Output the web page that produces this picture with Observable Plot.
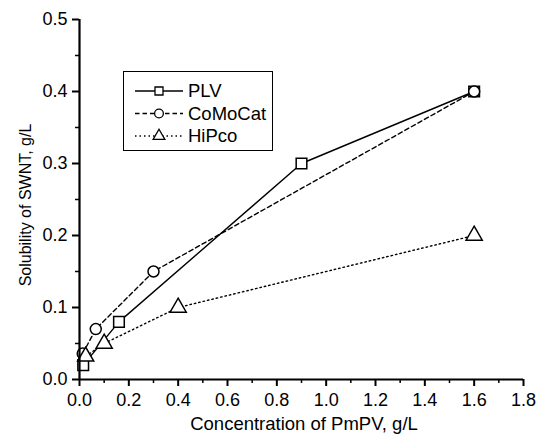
<!DOCTYPE html>
<html><head><meta charset="utf-8">
<script src="https://cdn.jsdelivr.net/npm/d3@7"></script>
<script src="https://cdn.jsdelivr.net/npm/@observablehq/plot@0.6"></script>
<style>
body{margin:0;background:#fff;font-family:"Liberation Sans",Arial,sans-serif;}
#wrap{position:relative;width:537px;height:436px;overflow:hidden;}
#legend{position:absolute;left:123px;top:71px;width:150px;height:80px;border:1.3px solid #000;box-sizing:border-box;background:#fff;}
</style></head>
<body><div id="wrap"><div id="chart"></div><div id="legend"></div></div>
<script>
const series = ["PLV", "CoMoCat", "HiPco"];
const plvX = [0.015, 0.16, 0.9, 1.6];
const plvY = [0.02, 0.08, 0.3, 0.4];
const comoX = [0.013, 0.066, 0.3, 1.6];
const comoY = [0.036, 0.07, 0.15, 0.4];
const hipcoX = [0.025, 0.1, 0.4, 1.6];
const hipcoY = [0.032, 0.05, 0.1, 0.2];
const xTicks = [0, 0.2, 0.4, 0.6, 0.8, 1.0, 1.2, 1.4, 1.6, 1.8];
const yTicks = [0, 0.1, 0.2, 0.3, 0.4, 0.5];

const styles = {
  PLV: {dash: null, symbol: "square", r: 6},
  CoMoCat: {dash: "4.5,3", symbol: "circle", r: 5.5},
  HiPco: {dash: "1.5,3", symbol: "triangle", r: 6}
};
const raw = {PLV: [plvX, plvY], CoMoCat: [comoX, comoY], HiPco: [hipcoX, hipcoY]};
const data = series.map(s => ({s, pts: raw[s][0].map((x, i) => ({x, y: raw[s][1][i], s}))}));

const xMinor = d3.range(0.1, 1.81, 0.2);
const yMinor = d3.range(0.05, 0.5, 0.1);

const marks = [];
for (const d of data) {
  marks.push(Plot.line(d.pts, {x: "x", y: "y", stroke: "#000", strokeWidth: 1.4, strokeDasharray: styles[d.s].dash}));
}
for (const d of data) {
  marks.push(Plot.dot(d.pts, {x: "x", y: "y", symbol: () => styles[d.s].symbol, r: styles[d.s].r, fill: "#fff", stroke: "#000", strokeWidth: 1.5}));
}
marks.push(
  Plot.axisX(xTicks, {tickSize: 7, tickPadding: 7, strokeWidth: 2, tickFormat: d3.format(".1f"), label: null}),
  Plot.axisX(xMinor, {tickSize: 4, strokeWidth: 1.5, tickFormat: () => "", label: null}),
  Plot.axisY(yTicks, {tickSize: 7, tickPadding: 5, strokeWidth: 2, tickFormat: d3.format(".1f"), label: null}),
  Plot.axisY(yMinor, {tickSize: 4, strokeWidth: 1.5, tickFormat: () => "", label: null}),
  Plot.ruleX([0], {strokeWidth: 2.2}),
  Plot.ruleY([0], {strokeWidth: 2.2})
);

const chart = Plot.plot({
  width: 537, height: 436,
  marginLeft: 79, marginRight: 14, marginTop: 19, marginBottom: 57,
  style: {fontFamily: "Liberation Sans, Arial, sans-serif", color: "#000", background: "#fff"},
  x: {domain: [0, 1.8]},
  y: {domain: [0, 0.5]},
  marks
});
document.getElementById("chart").appendChild(chart);

const svg = d3.select(chart);
svg.selectAll("text").style("font-size", "18px").style("font-family", "Liberation Sans, Arial, sans-serif");

// axis titles
svg.append("text").attr("x", 304).attr("y", 430).attr("text-anchor", "middle")
  .style("font-size", "18.5px").attr("fill", "#000").text("Concentration of PmPV, g/L");
svg.append("text").attr("transform", `translate(31,205) rotate(-90)`).attr("text-anchor", "middle")
  .style("font-size", "16px").attr("fill", "#000").text("Solubility of SWNT, g/L");

// legend
const legSvg = d3.select("#legend").append("svg").attr("width", 148).attr("height", 78)
  .style("font-family", "Liberation Sans, Arial, sans-serif");
series.forEach((s, i) => {
  const st = styles[s];
  const cy = 19 + i * 22.5;
  const g = legSvg.append("g").attr("transform", `translate(0,${cy})`);
  g.append("line").attr("x1", 11).attr("x2", 59).attr("y1", 0).attr("y2", 0)
    .attr("stroke", "#000").attr("stroke-width", 1.3).attr("stroke-dasharray", st.dash);
  const sym = d3.symbol().type(st.symbol === "square" ? d3.symbolSquare : st.symbol === "circle" ? d3.symbolCircle : d3.symbolTriangle)
    .size(st.symbol === "triangle" ? 60 : st.symbol === "circle" ? 60 : 64);
  g.append("path").attr("d", sym()).attr("transform", "translate(35,0)")
    .attr("fill", "#fff").attr("stroke", "#000").attr("stroke-width", 1.3);
  g.append("text").attr("x", 64).attr("y", 0).attr("dy", "0.35em").style("font-size", "18.5px").text(s);
});
</script></body></html>
